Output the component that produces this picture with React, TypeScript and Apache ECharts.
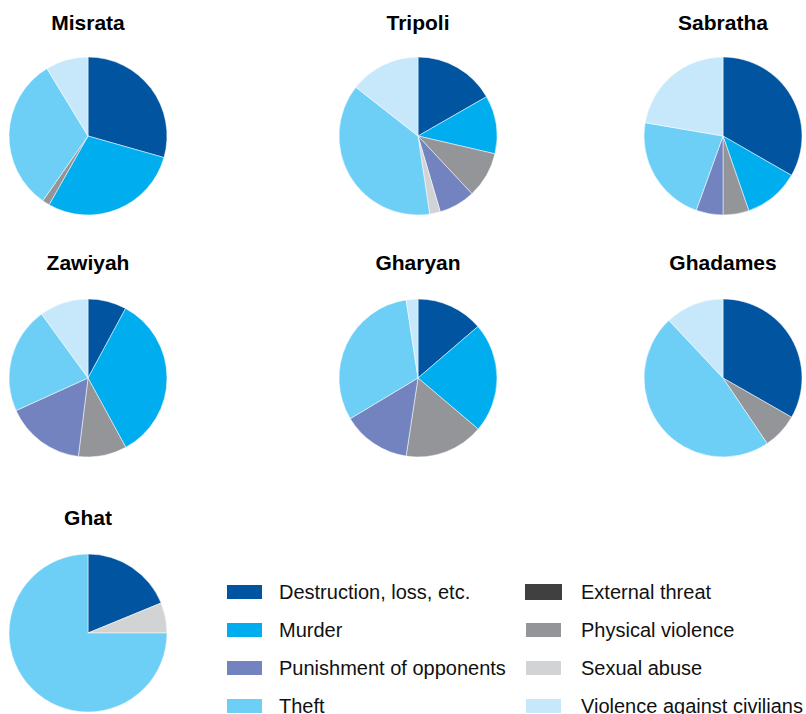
import React, { useEffect, useRef } from "react";
import * as echarts from "echarts";

const categories = [
  "Destruction, loss, etc.",
  "Murder",
  "External threat",
  "Physical violence",
  "Punishment of opponents",
  "Sexual abuse",
  "Theft",
  "Violence against civilians",
];
const colors = ["#0054a0", "#00aeef", "#404040", "#939598", "#7383bf", "#d1d3d4", "#6dcff6", "#c7e8fa"];

const cities = ["Misrata", "Tripoli", "Sabratha", "Zawiyah", "Gharyan", "Ghadames", "Ghat"];
const misrata = [29.4, 28.8, 0, 1.5, 0, 0, 31.6, 8.7];
const tripoli = [16.7, 11.9, 0, 9.4, 7.4, 2.2, 37.9, 14.4];
const sabratha = [33.3, 11.4, 0, 5.3, 5.5, 0, 22.2, 22.3];
const zawiyah = [7.9, 34.2, 0, 9.9, 16.3, 0, 21.8, 10];
const gharyan = [13.7, 22.5, 0, 16.2, 14, 0, 31.2, 2.4];
const ghadames = [33.3, 0, 0, 7.3, 0, 0, 47.5, 12];
const ghat = [18.8, 0, 0, 0, 0, 6.2, 75, 0];
const values = [misrata, tripoli, sabratha, zawiyah, gharyan, ghadames, ghat];

const legendCol1 = ["Destruction, loss, etc.", "Murder", "Punishment of opponents", "Theft"];
const legendCol2 = ["External threat", "Physical violence", "Sexual abuse", "Violence against civilians"];

const centers: [number, number][] = [
  [88, 136], [418, 136], [723, 136],
  [88, 378], [418, 378], [723, 378],
  [88, 633],
];
const titleY = [22, 22, 22, 262, 262, 262, 517];

export default function App() {
  const ref = useRef<HTMLDivElement>(null);
  useEffect(() => {
    if (!ref.current) return;
    const chart = echarts.init(ref.current, null, { renderer: "svg" });
    const series = values.map((vals, i) => ({
      type: "pie",
      name: cities[i],
      center: centers[i],
      radius: [0, 79],
      startAngle: 90,
      clockwise: true,
      label: { show: false },
      labelLine: { show: false },
      emphasis: { disabled: true },
      silent: true,
      itemStyle: { borderColor: "#ffffff", borderWidth: 0.5 },
      data: categories
        .map((c, k) => ({ name: c, value: vals[k], itemStyle: { color: colors[k] } }))
        .filter((d) => d.value > 0),
    }));
    const legendBase = {
      orient: "vertical" as const,
      top: 582,
      height: 140,
      padding: 0,
      itemWidth: 37,
      itemHeight: 16,
      itemGap: 18,
      icon: "rect",
      selectedMode: false,
      textStyle: {
        fontFamily: "Liberation Sans, Arial, sans-serif",
        fontSize: 20,
        color: "#111",
        padding: [0, 0, 0, 11],
      },
    };
    chart.setOption({
      animation: false,
      color: colors,
      legend: [
        { ...legendBase, left: 225, data: legendCol1 },
        { ...legendBase, left: 524, data: legendCol2, textStyle: { ...legendBase.textStyle, padding: [0, 0, 0, 14] } },
      ],
      graphic: cities.map((c, i) => ({
        type: "text",
        x: centers[i][0],
        y: titleY[i],
        style: {
          text: c,
          textAlign: "center",
          textVerticalAlign: "middle",
          font: "bold 21px 'Liberation Sans', Arial, sans-serif",
          fill: "#000",
        },
      })),
      series: [
        ...series,
        {
          type: "pie",
          name: "legendHelper",
          center: [-500, -500],
          radius: 1,
          silent: true,
          label: { show: false },
          data: categories.map((c, k) => ({ name: c, value: 1, itemStyle: { color: colors[k] } })),
        },
      ],
    });
    return () => chart.dispose();
  }, []);
  return <div ref={ref} style={{ width: 806, height: 714, position: "absolute", left: 0, top: 0 }} />;
}
